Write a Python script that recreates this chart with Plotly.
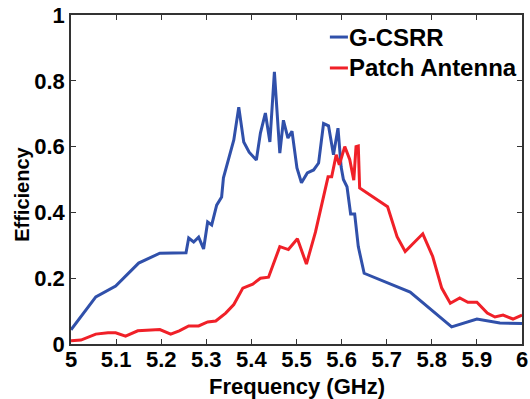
import plotly.graph_objects as go

# G-CSRR efficiency vs frequency
gcsrr_freq = [5.0, 5.055, 5.099, 5.150, 5.197, 5.255, 5.261, 5.272, 5.283, 5.294, 5.303, 5.312,
              5.323, 5.334, 5.338, 5.361, 5.372, 5.383, 5.395, 5.411, 5.420, 5.431, 5.441,
              5.451, 5.463, 5.471, 5.481, 5.490, 5.501, 5.511, 5.524, 5.538, 5.549, 5.560,
              5.571, 5.582, 5.592, 5.599, 5.604, 5.612, 5.620, 5.629, 5.637, 5.650, 5.752,
              5.844, 5.900, 5.951, 6.0]
gcsrr_eff = [0.043, 0.143, 0.176, 0.246, 0.276, 0.277, 0.322, 0.31, 0.325, 0.289, 0.371, 0.362,
             0.422, 0.447, 0.505, 0.62, 0.72, 0.614, 0.583, 0.559, 0.641, 0.702, 0.614,
             0.827, 0.58, 0.68, 0.626, 0.647, 0.535, 0.49, 0.52, 0.529, 0.55, 0.67,
             0.663, 0.575, 0.656, 0.538, 0.50, 0.478, 0.395, 0.395, 0.296, 0.215, 0.158,
             0.052, 0.076, 0.064, 0.062]

# Patch antenna efficiency vs frequency
patch_freq = [5.0, 5.022, 5.055, 5.082, 5.099, 5.121, 5.148, 5.197, 5.221, 5.240, 5.261, 5.283,
              5.303, 5.321, 5.343, 5.361, 5.381, 5.403, 5.420, 5.438, 5.463, 5.482, 5.502,
              5.522, 5.542, 5.564, 5.570, 5.578, 5.588, 5.595, 5.607, 5.618, 5.627, 5.632,
              5.637, 5.640, 5.702, 5.723, 5.741, 5.780, 5.802, 5.822, 5.841, 5.862, 5.880,
              5.900, 5.923, 5.940, 5.958, 5.980, 6.0]
patch_eff = [0.01, 0.012, 0.03, 0.034, 0.034, 0.024, 0.04, 0.044, 0.03, 0.04, 0.055, 0.055,
             0.067, 0.07, 0.094, 0.12, 0.17, 0.182, 0.2, 0.203, 0.296, 0.287, 0.32,
             0.243, 0.34, 0.478, 0.508, 0.508, 0.575, 0.545, 0.6, 0.561, 0.498, 0.6,
             0.602, 0.474, 0.417, 0.326, 0.281, 0.335, 0.266, 0.17, 0.124, 0.14, 0.127,
             0.127, 0.094, 0.082, 0.088, 0.076, 0.088]

x_ticks = [5.0, 5.1, 5.2, 5.3, 5.4, 5.5, 5.6, 5.7, 5.8, 5.9, 6.0]
x_tick_text = ["5", "5.1", "5.2", "5.3", "5.4", "5.5", "5.6", "5.7", "5.8", "5.9", "6"]
y_ticks = [0, 0.2, 0.4, 0.6, 0.8, 1.0]
y_tick_text = ["0", "0.2", "0.4", "0.6", "0.8", "1"]

series_names = ["G-CSRR", "Patch Antenna"]
x_title = "Frequency (GHz)"
y_title = "Efficiency"
BLUE = "rgb(48,80,170)"
RED = "rgb(240,32,40)"
FONT = "Liberation Sans"

fig = go.Figure()
fig.add_trace(go.Scatter(x=gcsrr_freq, y=gcsrr_eff, mode="lines", name=series_names[0],
                         line=dict(color=BLUE, width=3)))
fig.add_trace(go.Scatter(x=patch_freq, y=patch_eff, mode="lines", name=series_names[1],
                         line=dict(color=RED, width=3)))

axis_common = dict(
    showline=True, linecolor="#333333", linewidth=1.5, mirror="ticks",
    ticks="inside", ticklen=5, tickcolor="#333333", tickwidth=1,
    showgrid=False, zeroline=False, automargin=False,
    tickfont=dict(family=FONT, size=22, color="black", weight="bold"),
)

fig.update_xaxes(range=[5, 6], tickvals=x_ticks, ticktext=x_tick_text,
                 ticklabelstandoff=-5, **axis_common)
fig.update_yaxes(range=[0, 1], tickvals=y_ticks, ticktext=y_tick_text, **axis_common)

# Axis titles
fig.add_annotation(xref="paper", yref="paper", x=0.5, y=-0.128, text=x_title,
                   showarrow=False, xanchor="center", yanchor="middle",
                   font=dict(family=FONT, size=22, color="black", weight="bold"))
fig.add_annotation(xref="paper", yref="paper", x=-0.109, y=0.456, text=y_title,
                   showarrow=False, xanchor="center", yanchor="middle", textangle=-90,
                   font=dict(family=FONT, size=20, color="black", weight="bold"))

# Legend drawn as short line samples with bold labels in the upper right
legend_rows = [(series_names[0], BLUE, 0.933), (series_names[1], RED, 0.839)]
for name, color, yp in legend_rows:
    fig.add_shape(type="line", xref="paper", yref="paper",
                  x0=0.574, x1=0.614, y0=yp, y1=yp,
                  line=dict(color=color, width=3))
    fig.add_annotation(xref="paper", yref="paper", x=0.615, y=yp, text=name,
                       showarrow=False, xanchor="left", yanchor="middle", borderpad=0,
                       font=dict(family=FONT, size=24, color="black", weight="bold"))

fig.update_layout(
    width=530, height=399,
    margin=dict(l=71, r=8, t=15, b=55),
    plot_bgcolor="white", paper_bgcolor="white",
    showlegend=False,
)

fig.write_html("out.html")
